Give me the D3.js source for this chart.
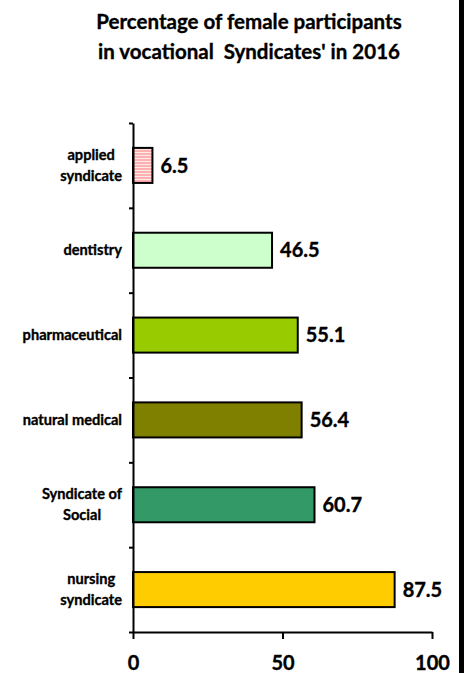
<!DOCTYPE html>
<html><head><meta charset="utf-8">
<script src="https://cdn.jsdelivr.net/npm/d3@7"></script>
<style>
html,body{margin:0;padding:0;background:#fff;}
svg{display:block;font-family:Lato, "Open Sans", sans-serif;}
text.b{stroke:#000;stroke-width:0.35px;}
</style></head>
<body>
<script>
const titleLines = ["Percentage of female participants", "in vocational  Syndicates' in 2016"];
const categories = ["applied\nsyndicate", "dentistry", "pharmaceutical", "natural medical", "Syndicate of\nSocial", "nursing\nsyndicate"];
const values = [6.5, 46.5, 55.1, 56.4, 60.7, 87.5];
const colors = ["url(#stripes)", "#ccffcc", "#99cc00", "#808000", "#339966", "#ffcc00"];
const xTicks = [0, 50, 100];

const W = 465, H = 673;
const svg = d3.select("body").append("svg").attr("width", W).attr("height", H);

const defs = svg.append("defs");
const pat = defs.append("pattern").attr("id", "stripes").attr("patternUnits", "userSpaceOnUse")
  .attr("width", 4).attr("height", 3);
pat.append("rect").attr("width", 4).attr("height", 3).attr("fill", "#ffb0b0");
pat.append("rect").attr("y", 2).attr("width", 4).attr("height", 1).attr("fill", "#ffe8e8");

// title
svg.append("g").selectAll("text").data(titleLines).join("text")
  .attr("class", "b")
  .attr("x", 249).attr("y", (d, i) => 29 + i * 30)
  .attr("text-anchor", "middle").attr("font-weight", "bold").attr("font-size", 20.5)
  .attr("fill", "#000").style("white-space", "pre")
  .text(d => d);

// right border bar
svg.append("rect").attr("x", 459).attr("y", 0).attr("width", 5).attr("height", H).attr("fill", "#000");

const x = d3.scaleLinear().domain([0, 100]).range([133, 432]);
const plotTop = 123, plotBottom = 632;
const y = d3.scaleBand().domain(categories).range([plotTop, plotBottom]).paddingInner(0.587).paddingOuter(0.2935);
const yb = d3.scaleLinear().domain([0, categories.length]).range([plotBottom, plotTop]);

// bars
svg.append("g").selectAll("rect").data(categories).join("rect")
  .attr("x", x(0)).attr("y", d => y(d))
  .attr("width", (d, i) => x(values[i]) - x(0))
  .attr("height", y.bandwidth())
  .attr("fill", (d, i) => colors[i])
  .attr("stroke", "#000").attr("stroke-width", 2);

// value labels
svg.append("g").selectAll("text").data(categories).join("text")
  .attr("class", "b")
  .attr("x", (d, i) => x(values[i]) + 8)
  .attr("y", d => y(d) + y.bandwidth() / 2)
  .attr("dy", "0.36em")
  .attr("font-weight", "bold").attr("font-size", 20).attr("fill", "#000")
  .text((d, i) => values[i].toFixed(1));

// y axis (ticks at category boundaries)
const yAxis = svg.append("g").attr("transform", `translate(${x(0)},0)`)
  .call(d3.axisLeft(yb).tickValues(d3.range(0, categories.length + 1)).tickFormat("").tickSize(4).tickSizeOuter(0));
yAxis.select(".domain").attr("stroke-width", 2);
yAxis.selectAll(".tick line").attr("stroke-width", 2);

// category labels
const lh = 21;
const labG = svg.append("g");
categories.forEach((c, i) => {
  const lines = c.split("\n");
  const cy = y(c) + y.bandwidth() / 2;
  const g = labG.append("g");
  const texts = g.selectAll("text").data(lines).join("text")
    .attr("class", "b")
    .attr("y", (d, j) => cy + (j - (lines.length - 1) / 2) * lh)
    .attr("dy", "0.35em")
    .attr("font-weight", "bold").attr("font-size", 14.6).attr("fill", "#000")
    .attr("text-anchor", "middle").text(d => d);
  let maxW = 0;
  texts.each(function () { maxW = Math.max(maxW, this.getComputedTextLength()); });
  texts.attr("x", 122 - maxW / 2);
});

// x axis
const xAxis = svg.append("g").attr("transform", `translate(0,${plotBottom})`)
  .call(d3.axisBottom(x).tickValues(xTicks).tickSize(7).tickSizeOuter(0).tickPadding(17));
xAxis.select(".domain").attr("stroke-width", 2);
xAxis.selectAll(".tick line").attr("stroke-width", 2);
xAxis.selectAll(".tick text").attr("class", "b").attr("font-family", "Lato, sans-serif").attr("font-weight", "bold")
  .attr("font-size", 20).attr("fill", "#000");
</script>
</body></html>
